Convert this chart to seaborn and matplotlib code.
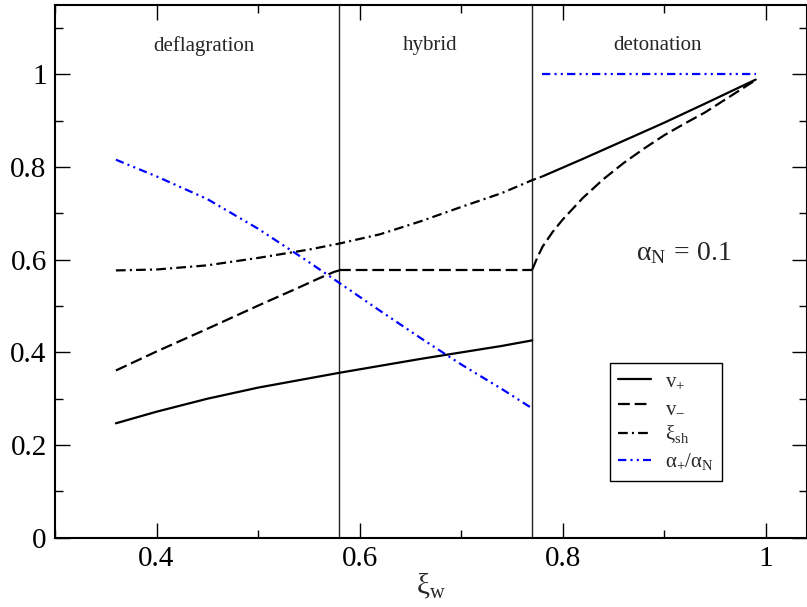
import numpy as np
import pandas as pd
import matplotlib
matplotlib.use("Agg")
import matplotlib.pyplot as plt
import seaborn as sns
from matplotlib.ticker import MultipleLocator, FixedLocator, FixedFormatter

# ---------------- data ----------------
xi_sub = [0.36, 0.40, 0.45, 0.50, 0.55, 0.58, 0.62, 0.66, 0.70, 0.74, 0.77]
vplus_sub = [0.247, 0.272, 0.300, 0.324, 0.344, 0.356, 0.371, 0.386, 0.400, 0.414, 0.426]
alpha_sub = [0.816, 0.780, 0.731, 0.667, 0.595, 0.550, 0.490, 0.431, 0.374, 0.321, 0.279]

xi_sh_x = [0.36, 0.40, 0.45, 0.50, 0.55, 0.58, 0.62, 0.66, 0.70, 0.74, 0.77, 0.78]
xi_sh_y = [0.577, 0.579, 0.588, 0.604, 0.622, 0.635, 0.655, 0.683, 0.714, 0.744, 0.772, 0.780]

vminus_defl_x = [0.36, 0.40, 0.45, 0.50, 0.54, 0.56, 0.575, 0.58]
vminus_defl_y = [0.361, 0.402, 0.451, 0.501, 0.540, 0.560, 0.574, 0.577]
vminus_hyb_x = [0.58, 0.77]
vminus_hyb_y = [0.577, 0.577]
vminus_det_x = [0.77, 0.775, 0.78, 0.79, 0.80, 0.82, 0.84, 0.86, 0.88, 0.90, 0.92, 0.94, 0.96, 0.99]
vminus_det_y = [0.579, 0.605, 0.628, 0.660, 0.687, 0.734, 0.774, 0.809, 0.840, 0.869, 0.894, 0.918, 0.946, 0.988]

vplus_det_x = [0.78, 0.82, 0.86, 0.90, 0.94, 0.99]
vplus_det_y = [0.780, 0.818, 0.857, 0.896, 0.937, 0.989]

alpha_det_x = [0.78, 0.99]
alpha_det_y = [1.0, 1.0]

boundaries = [0.58, 0.77]
region_names = ["deflagration", "hybrid", "detonation"]
region_x = [0.447, 0.669, 0.893]

x_major = [0.4, 0.6, 0.8, 1.0]
x_major_labels = ["0.4", "0.6", "0.8", "1"]
y_major = [0, 0.2, 0.4, 0.6, 0.8, 1.0]
y_major_labels = ["0", "0.2", "0.4", "0.6", "0.8", "1"]

# ---------------- style ----------------
sns.set_theme(style="ticks")
plt.rcParams["font.family"] = ["Liberation Serif", "DejaVu Serif"]
plt.rcParams["mathtext.fontset"] = "custom"
plt.rcParams["mathtext.rm"] = "Liberation Serif"
plt.rcParams["mathtext.it"] = "Liberation Serif"
plt.rcParams["mathtext.bf"] = "Liberation Serif:bold"
plt.rcParams["lines.scale_dashes"] = False

fig = plt.figure(figsize=(8.07, 6.07), dpi=100)
ax = fig.add_axes([55 / 807, (607 - 537.7) / 607, (806.5 - 55) / 807, (537.7 - 5) / 607])

lw = 1.6
ls_dash = (0, (8.5, 3.5))
ls_dashdot = (0, (7, 3, 1.5, 3))
ls_dashdotdot = (0, (6, 3, 1.5, 3, 1.5, 3))

for b in boundaries:
    ax.axvline(b, color="#222222", lw=1.0, zorder=1)

sns.lineplot(x=xi_sub, y=vplus_sub, ax=ax, color="black", lw=lw, sort=False,
             linestyle="-", label=r"$\mathrm{v}_{+}$")
sns.lineplot(x=vplus_det_x, y=vplus_det_y, ax=ax, color="black", lw=lw, sort=False,
             linestyle="-")

sns.lineplot(x=vminus_defl_x, y=vminus_defl_y, ax=ax, color="black", lw=lw, sort=False,
             linestyle=ls_dash, label=r"$\mathrm{v}_{-}$")
sns.lineplot(x=vminus_hyb_x, y=vminus_hyb_y, ax=ax, color="black", lw=lw, sort=False,
             linestyle=ls_dash)
sns.lineplot(x=vminus_det_x, y=vminus_det_y, ax=ax, color="black", lw=lw, sort=False,
             linestyle=ls_dash)

sns.lineplot(x=xi_sh_x, y=xi_sh_y, ax=ax, color="black", lw=lw, sort=False,
             linestyle=ls_dashdot, label=r"$\mathrm{\xi}_{\mathrm{sh}}$")

sns.lineplot(x=xi_sub, y=alpha_sub, ax=ax, color="blue", lw=lw, sort=False,
             linestyle=ls_dashdotdot, label=r"$\mathrm{\alpha}_{+}/\mathrm{\alpha}_{\mathrm{N}}$")
sns.lineplot(x=alpha_det_x, y=alpha_det_y, ax=ax, color="blue", lw=lw, sort=False,
             linestyle=ls_dashdotdot)

ax.set_xlim(0.3, 1.04)
ax.set_ylim(0, 1.15)

ax.xaxis.set_major_locator(FixedLocator(x_major))
ax.xaxis.set_major_formatter(FixedFormatter(x_major_labels))
ax.yaxis.set_major_locator(FixedLocator(y_major))
ax.yaxis.set_major_formatter(FixedFormatter(y_major_labels))
ax.xaxis.set_minor_locator(MultipleLocator(0.1))
ax.yaxis.set_minor_locator(MultipleLocator(0.1))

ax.tick_params(which="both", direction="in", top=True, right=True, colors="black",
               labelsize=21)
ax.tick_params(which="major", length=11, width=1.0)
ax.tick_params(which="minor", length=5.5, width=1.0)
ax.tick_params(axis="x", which="major", pad=6)
ax.tick_params(axis="y", which="major", pad=6)

for s in ax.spines.values():
    s.set_linewidth(1.5)
    s.set_color("black")
    s.set_visible(True)

for name, xx in zip(region_names, region_x):
    ax.text(xx, 1.062, name, ha="center", va="center", fontsize=15)

ax.text(0.919, 0.614, r"$\mathrm{\alpha}_{\mathrm{N}}\,=\,0.1$", ha="center", va="center", fontsize=20)

ax.set_xlabel(r"$\mathrm{\xi}_{\mathrm{w}}$", fontsize=21, labelpad=0)
ax.set_ylabel("")

leg = ax.legend(loc="upper left", bbox_to_anchor=(0.738, 0.328), borderaxespad=0,
                fontsize=15, frameon=True, fancybox=False, handlelength=1.6,
                handletextpad=0.65, labelspacing=0.3, borderpad=0.4)
leg.get_frame().set_edgecolor("black")
leg.get_frame().set_linewidth(1.0)
leg.get_frame().set_alpha(1)

fig.savefig("out.png", dpi=100)
